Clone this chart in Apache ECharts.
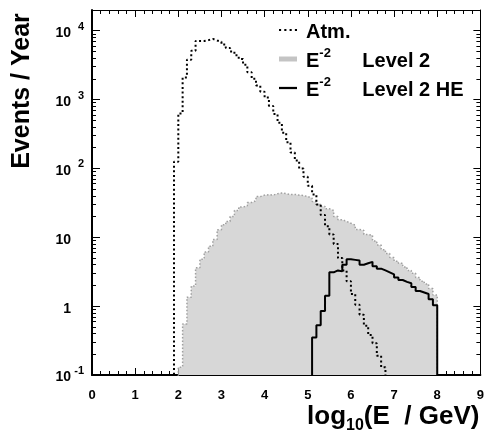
<!DOCTYPE html>
<html>
<head>
<meta charset="utf-8">
<script src="https://cdn.jsdelivr.net/npm/echarts@6/dist/echarts.min.js"></script>
<style>
  html, body { margin: 0; padding: 0; background: #fff; }
  #chart { width: 487px; height: 434px; }
</style>
</head>
<body>
<div id="chart"></div>
<script>
// histogram bins, 0.1 wide in log10(E/GeV)
const binWidth = 0.1;

// Atm. (dotted)
const atmStart = 1.9;
const atmRate = [125, 630, 2100, 3800, 5100, 7100, 7100, 7300, 7600, 7200,
  6900, 6300, 5600, 5000, 4400, 3900, 3200, 2500, 2000, 1600,
  1300, 1070, 810, 620, 460, 330, 240, 170, 130, 100,
  76, 56, 42, 30, 21, 14.5, 11, 8, 5.0, 3.3,
  2.3, 1.5, 1.05, 0.75, 0.52, 0.38, 0.29, 0.19, 0.13];

// E^-2 Level 2 (grey filled)
const level2Start = 2.0;
const level2Rate = [0.13, 0.55, 1.35, 1.96, 3.6, 4.8, 6.1, 7.4, 9.3, 12.9,
  15.2, 17, 20, 24.5, 27.5, 28.7, 32, 34, 39, 41,
  41.5, 41, 43, 44, 43, 42, 42, 41, 40.5, 39,
  37, 33, 30, 28, 26, 24.5, 20, 18, 17, 16,
  15, 13, 12.6, 11, 10.7, 8.8, 7.7, 6.6, 5.8, 5.1,
  4.5, 4.2, 3.7, 3.3, 3.0, 2.6, 2.3, 2.1, 1.8, 1.45];

// E^-2 Level 2 HE (solid black)
const heStart = 5.1;
const heRate = [0.35, 0.53, 0.85, 1.41, 3.1, 3.3, 3.2, 4.0, 4.8, 4.7,
  4.6, 4.0, 4.2, 4.4, 3.8, 3.5, 3.3, 3.1, 2.9, 2.6,
  2.4, 2.25, 2.15, 1.9, 1.66, 1.58, 1.5, 1.26, 1.03];

const xTicks = [0, 1, 2, 3, 4, 5, 6, 7, 8, 9];
const yMin = 0.1;
const yMax = 20000;

const FONT = 'Liberation Sans';
const floorVal = 0.001; // below the axis minimum, clipped by the grid

// turn bin contents into step points (left edge of each bin)
function stepData(start, counts) {
  const pts = [[start, floorVal]];
  counts.forEach((c, i) => pts.push([+(start + i * binWidth).toFixed(2), c]));
  pts.push([+(start + counts.length * binWidth).toFixed(2), floorVal]);
  return pts;
}

// minor log ticks 2..9 x 10^n, placed on a helper axis in log10 space
const minorLog = [];
for (let n = -1; n <= 4; n++) {
  for (let k = 2; k <= 9; k++) {
    const v = Math.log10(k * Math.pow(10, n));
    if (v < Math.log10(yMax)) minorLog.push(v);
  }
}

const chart = echarts.init(document.getElementById('chart'));

const labelRich = {
  b: { fontFamily: FONT, fontSize: 14, fontWeight: 'bold', color: '#000', lineHeight: 19, verticalAlign: 'bottom' },
  s: { fontFamily: FONT, fontSize: 11, fontWeight: 'bold', color: '#000', lineHeight: 10, verticalAlign: 'top', width: 10, padding: [0, 0, 0, 3] }
};

chart.setOption({
  animation: false,
  grid: { left: 92, right: 5, top: 10, bottom: 59 },
  legend: {
    orient: 'vertical',
    left: 274,
    top: 17,
    itemGap: 5,
    itemWidth: 18,
    itemHeight: 6,
    selectedMode: false,
    data: [
      { name: 'Atm.', icon: 'path://M0,0h2v2h-2zM5,0h2v2h-2zM10,0h2v2h-2zM15,0h2v2h-2z', itemStyle: { color: '#000' } },
      { name: 'Level 2', icon: 'path://M0,0h18v5h-18z', itemStyle: { color: '#c4c4c4' } },
      { name: 'Level 2 HE', icon: 'path://M0,0h16v2h-16z', itemStyle: { color: '#000' } }
    ],
    formatter: function (name) {
      if (name === 'Atm.') return '{t|Atm.}';
      return '{t|E}{sup|-2}{t|' + name + '}';
    },
    textStyle: {
      padding: [0, 0, 0, 4],
      rich: {
        t: { fontFamily: FONT, fontSize: 20, fontWeight: 'bold', color: '#000', lineHeight: 24, verticalAlign: 'bottom' },
        sup: { fontFamily: FONT, fontSize: 13, fontWeight: 'bold', color: '#000', lineHeight: 12, verticalAlign: 'top', width: 43 }
      }
    }
  },
  graphic: [{
    type: 'text',
    x: 22,
    y: 91,
    rotation: Math.PI / 2,
    style: {
      text: 'Events / Year',
      fill: '#000',
      font: 'bold 25px ' + FONT,
      textAlign: 'center',
      textVerticalAlign: 'middle'
    }
  }],
  xAxis: [{
    type: 'value',
    min: xTicks[0],
    max: xTicks[xTicks.length - 1],
    interval: 1,
    position: 'bottom',
    axisLine: { onZero: false, lineStyle: { color: '#000', width: 2 } },
    axisTick: { inside: true, length: 7, lineStyle: { color: '#000' } },
    minorTick: { show: true, splitNumber: 5, length: 4, lineStyle: { color: '#000' } },
    splitLine: { show: false },
    axisLabel: { fontFamily: FONT, fontSize: 13, fontWeight: 'bold', color: '#000', margin: 14 },
    name: '{t|log}{sub|10}{t|(E  / GeV)}',
    nameLocation: 'end',
    nameGap: -1,
    nameTextStyle: {
      align: 'right',
      verticalAlign: 'top',
      padding: [29, 0, 0, 0],
      rich: {
        t: { fontFamily: FONT, fontSize: 26, fontWeight: 'bold', color: '#000', lineHeight: 30, verticalAlign: 'top' },
        sub: { fontFamily: FONT, fontSize: 16, fontWeight: 'bold', color: '#000', lineHeight: 16, verticalAlign: 'bottom' }
      }
    }
  }, {
    type: 'value',
    min: xTicks[0],
    max: xTicks[xTicks.length - 1],
    interval: 1,
    position: 'top',
    axisLine: { onZero: false, lineStyle: { color: '#000', width: 1 } },
    axisTick: { inside: true, length: 7, lineStyle: { color: '#000' } },
    minorTick: { show: true, splitNumber: 5, length: 4, lineStyle: { color: '#000' } },
    splitLine: { show: false },
    axisLabel: { show: false }
  }],
  yAxis: [{
    type: 'log',
    logBase: 10,
    min: yMin,
    max: yMax,
    position: 'left',
    axisLine: { onZero: false, lineStyle: { color: '#000', width: 2 } },
    axisTick: { inside: true, length: 8, lineStyle: { color: '#000' } },
    splitLine: { show: false },
    axisLabel: {
      margin: 8,
      showMaxLabel: false,
      formatter: function (v) {
        const e = Math.round(Math.log10(v));
        if (e === 0) return '{b|1}{s| }';
        if (e === 1) return '{b|10}{s| }';
        return '{b|10}{s|' + e + '}';
      },
      rich: labelRich
    }
  }, {
    type: 'value',
    min: Math.log10(yMin),
    max: Math.log10(yMax),
    position: 'left',
    axisLine: { show: false, onZero: false },
    axisTick: { inside: true, length: 4, customValues: minorLog, lineStyle: { color: '#000' } },
    splitLine: { show: false },
    axisLabel: { show: false }
  }, {
    type: 'log',
    logBase: 10,
    min: yMin,
    max: yMax,
    position: 'right',
    axisLine: { onZero: false, lineStyle: { color: '#000', width: 1 } },
    axisTick: { inside: true, length: 7, lineStyle: { color: '#000' } },
    splitLine: { show: false },
    axisLabel: { show: false }
  }, {
    type: 'value',
    min: Math.log10(yMin),
    max: Math.log10(yMax),
    position: 'right',
    axisLine: { show: false, onZero: false },
    axisTick: { inside: true, length: 4, customValues: minorLog, lineStyle: { color: '#000' } },
    splitLine: { show: false },
    axisLabel: { show: false }
  }],
  series: [{
    name: 'Level 2',
    type: 'line',
    step: 'end',
    symbol: 'none',
    clip: true,
    data: stepData(level2Start, level2Rate),
    lineStyle: { color: '#a0a0a0', width: 1.5, type: [1.5, 2] },
    areaStyle: { color: '#d7d7d7', opacity: 1, origin: 'start' },
    itemStyle: { color: '#c4c4c4' }
  }, {
    name: 'Atm.',
    type: 'line',
    step: 'end',
    symbol: 'none',
    clip: true,
    data: stepData(atmStart, atmRate),
    lineStyle: { color: '#000', width: 2, type: [2, 2.6] },
    itemStyle: { color: '#000' }
  }, {
    name: 'Level 2 HE',
    type: 'line',
    step: 'end',
    symbol: 'none',
    clip: true,
    data: stepData(heStart, heRate),
    lineStyle: { color: '#000', width: 2 },
    itemStyle: { color: '#000' }
  }]
});
</script>
</body>
</html>
